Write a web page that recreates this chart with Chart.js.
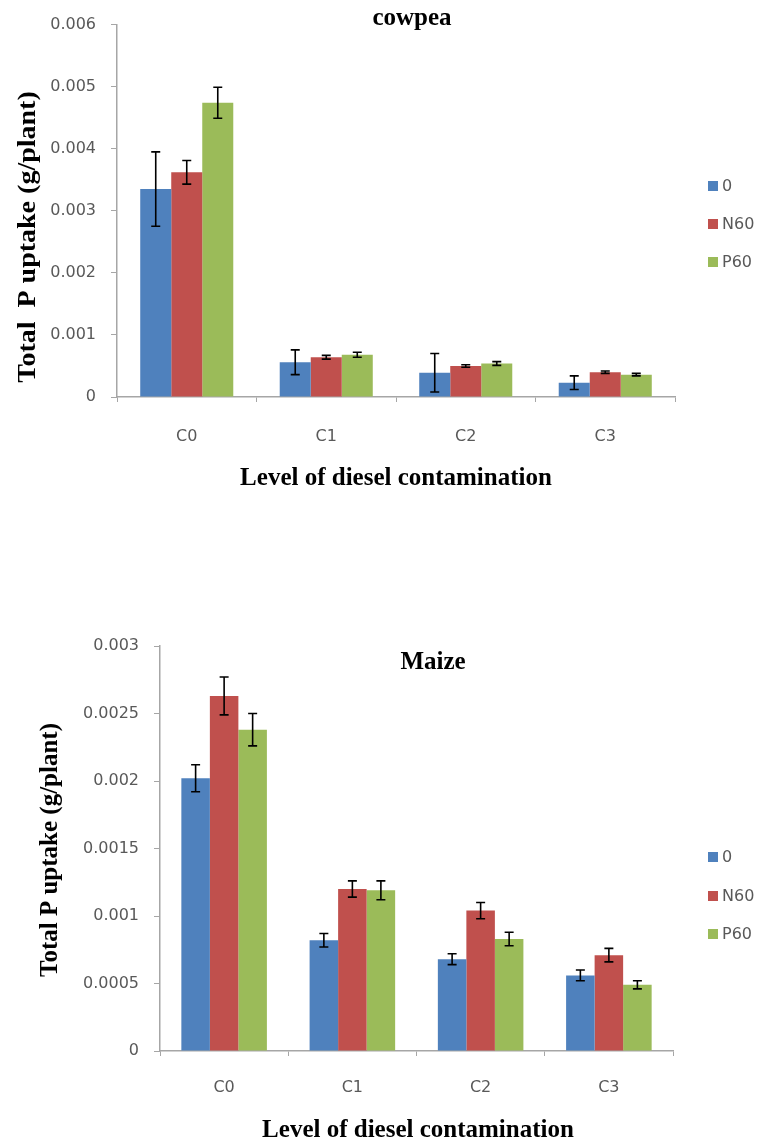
<!DOCTYPE html>
<html><head><meta charset="utf-8">
<script src="https://cdn.jsdelivr.net/npm/chart.js@4/dist/chart.umd.min.js"></script>
<style>
html,body{margin:0;padding:0;background:#fff;width:762px;height:1145px;overflow:hidden}
.c{position:absolute;left:0}
</style></head><body>
<div class="c" style="top:0;width:762px;height:500px"><canvas id="cowpea" width="762" height="500"></canvas></div>
<div class="c" style="top:560px;width:762px;height:585px"><canvas id="maize" width="762" height="585"></canvas></div>
<script>
// ---- data ----
const categories = ['C0', 'C1', 'C2', 'C3'];
const seriesNames = ['0', 'N60', 'P60'];
const seriesColors = ['#4f81bd', '#c0504d', '#9bbb59'];

const cowpea0   = [0.00335, 0.00056, 0.00039, 0.00023];
const cowpeaN60 = [0.00362, 0.00064, 0.00050, 0.00040];
const cowpeaP60 = [0.00474, 0.00068, 0.00054, 0.00036];
const cowpeaErr0   = [0.00060, 0.00020, 0.00031, 0.00011];
const cowpeaErrN60 = [0.00019, 0.00003, 0.00002, 0.00002];
const cowpeaErrP60 = [0.00025, 0.00004, 0.00003, 0.00002];
const cowpeaTickValues = [0, 0.001, 0.002, 0.003, 0.004, 0.005, 0.006];
const cowpeaTickLabels = ['0', '0.001', '0.002', '0.003', '0.004', '0.005', '0.006'];

const maize0   = [0.00202, 0.00082, 0.00068, 0.00056];
const maizeN60 = [0.00263, 0.00120, 0.00104, 0.00071];
const maizeP60 = [0.00238, 0.00119, 0.00083, 0.00049];
const maizeErr0   = [0.00010, 0.00005, 0.00004, 0.00004];
const maizeErrN60 = [0.00014, 0.00006, 0.00006, 0.00005];
const maizeErrP60 = [0.00012, 0.00007, 0.00005, 0.00003];
const maizeTickValues = [0, 0.0005, 0.001, 0.0015, 0.002, 0.0025, 0.003];
const maizeTickLabels = ['0', '0.0005', '0.001', '0.0015', '0.002', '0.0025', '0.003'];

const xTitle = 'Level of diesel contamination';
const cowpeaYTitle = 'Total  P uptake (g/plant)';
const maizeYTitle = 'Total P uptake (g/plant)';
const cowpeaTitle = 'cowpea';
const maizeTitle = 'Maize';

// ---- styling ----
const AXIS = '#a6a6a6';
const TICKTXT = '#595959';
const SANS = '"DejaVu Sans", sans-serif';
const SERIF = '"Liberation Serif", "Times New Roman", serif';

function annotations(cfg) {
  return {
    id: 'annot',
    afterDatasetsDraw(chart) {
      const ctx = chart.ctx, y = chart.scales.y;
      chart.data.datasets.forEach((ds, di) => {
        const meta = chart.getDatasetMeta(di);
        meta.data.forEach((bar, i) => {
          const v = ds.data[i], e = cfg.errors[di][i];
          const yt = y.getPixelForValue(v + e), yb = y.getPixelForValue(v - e);
          ctx.save();
          ctx.strokeStyle = '#000';
          ctx.lineWidth = 1.6;
          ctx.beginPath();
          ctx.moveTo(bar.x, yt); ctx.lineTo(bar.x, yb);
          ctx.moveTo(bar.x - 4.5, yt); ctx.lineTo(bar.x + 4.5, yt);
          ctx.moveTo(bar.x - 4.5, yb); ctx.lineTo(bar.x + 4.5, yb);
          ctx.stroke();
          ctx.restore();
        });
      });
    },
    afterDraw(chart) {
      const ctx = chart.ctx;
      ctx.save();
      ctx.fillStyle = '#000';
      // chart title
      ctx.font = 'bold 25px ' + SERIF;
      ctx.textAlign = 'center';
      ctx.textBaseline = 'alphabetic';
      ctx.fillText(cfg.title, cfg.titleX, cfg.titleY);
      // x axis title
      ctx.font = 'bold 25px ' + SERIF;
      ctx.fillText(xTitle, cfg.xTitleX, cfg.xTitleY);
      // y axis title
      ctx.save();
      ctx.translate(cfg.yTitleX, cfg.yTitleY);
      ctx.rotate(-Math.PI / 2);
      ctx.scale(cfg.yTitleScale, 1);
      ctx.textBaseline = 'middle';
      ctx.font = 'bold 25px ' + SERIF;
      ctx.fillText(cfg.yTitle, 0, 0);
      ctx.restore();
      // legend
      ctx.font = '16px ' + SANS;
      ctx.textAlign = 'left';
      ctx.textBaseline = 'middle';
      chart.data.datasets.forEach((ds, di) => {
        const ly = cfg.legendY[di];
        ctx.fillStyle = ds.backgroundColor;
        ctx.fillRect(708, ly - 5, 10, 10);
        ctx.fillStyle = TICKTXT;
        ctx.fillText(ds.label, 722, ly + 1);
      });
      ctx.restore();
    }
  };
}

function makeChart(id, values, tickValues, tickLabels, area, cfg) {
  const canvas = document.getElementById(id);
  const datasets = seriesNames.map((name, i) => ({
    label: name,
    data: values[i],
    backgroundColor: seriesColors[i],
    borderWidth: 0,
    categoryPercentage: 0.667,
    barPercentage: 1.0
  }));
  return new Chart(canvas, {
    type: 'bar',
    data: { labels: categories, datasets },
    options: {
      responsive: false,
      animation: false,
      devicePixelRatio: 1,
      layout: { padding: { top: area.top, right: canvas.width - area.right, left: 0, bottom: 0 } },
      plugins: { legend: { display: false }, tooltip: { enabled: false }, title: { display: false } },
      scales: {
        x: {
          grid: { display: true, offset: true, drawOnChartArea: false, drawTicks: true, tickLength: 5, color: AXIS, lineWidth: 1 },
          border: { display: true, color: AXIS, width: 1.5 },
          ticks: { color: TICKTXT, font: { family: SANS, size: 16 }, padding: cfg.xTickPad, maxRotation: 0 },
          afterFit(s) { s.height = canvas.height - area.bottom; }
        },
        y: {
          min: tickValues[0],
          max: tickValues[tickValues.length - 1],
          afterBuildTicks(s) { s.ticks = tickValues.map(v => ({ value: v })); },
          grid: { display: true, drawOnChartArea: false, drawTicks: true, tickLength: 6, color: AXIS, lineWidth: 1 },
          border: { display: true, color: AXIS, width: 1.5 },
          ticks: {
            color: TICKTXT, font: { family: SANS, size: 16 }, padding: 15,
            callback: (v, i) => tickLabels[i]
          },
          afterFit(s) { s.width = area.left; }
        }
      }
    },
    plugins: [annotations(cfg)]
  });
}

makeChart('cowpea', [cowpea0, cowpeaN60, cowpeaP60], cowpeaTickValues, cowpeaTickLabels,
  { left: 117, right: 675, top: 20, bottom: 397 },
  { errors: [cowpeaErr0, cowpeaErrN60, cowpeaErrP60], title: cowpeaTitle, titleX: 412, titleY: 25,
    xTitleX: 396, xTitleY: 485, yTitle: cowpeaYTitle, yTitleX: 29, yTitleY: 237, yTitleScale: 1.12,
    legendY: [186, 224, 262], xTickPad: 25 });

makeChart('maize', [maize0, maizeN60, maizeP60], maizeTickValues, maizeTickLabels,
  { left: 160, right: 673, top: 86, bottom: 491 },
  { errors: [maizeErr0, maizeErrN60, maizeErrP60], title: maizeTitle, titleX: 433, titleY: 109,
    xTitleX: 418, xTitleY: 577, yTitle: maizeYTitle, yTitleX: 51, yTitleY: 290, yTitleScale: 1.0,
    legendY: [297, 336, 374], xTickPad: 22 });
</script>
</body></html>
